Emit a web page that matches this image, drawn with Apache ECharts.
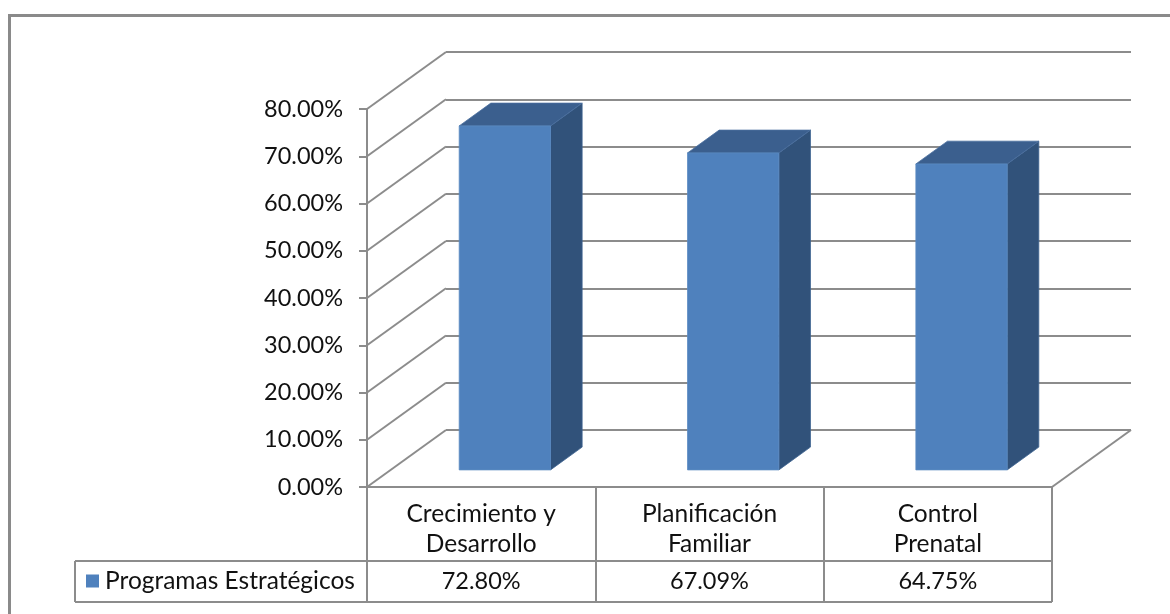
<!DOCTYPE html>
<html>
<head>
<meta charset="utf-8">
<script src="https://cdn.jsdelivr.net/npm/echarts@6/dist/echarts.min.js"></script>
<style>
html,body{margin:0;padding:0;background:#fff;}
#c{width:1170px;height:614px;}
</style>
</head>
<body>
<div id="c"></div>
<script>
// ---- data ----
const categories = ['Crecimiento y\nDesarrollo', 'Planificación\nFamiliar', 'Control\nPrenatal'];
const values = [72.80, 67.09, 64.75];
const seriesName = 'Programas Estratégicos';
const yMin = 0, yMax = 80, yStep = 10;
const yTicks = [0, 10, 20, 30, 40, 50, 60, 70, 80];

// ---- styling / 3D geometry ----
const DX = 79, DY = -57;            // floor depth offset
const F0 = 0.30, F1 = 0.70;         // bar depth position (fraction)
const BAR_W = 0.40;                 // bar width fraction of band
const LINE = '#8c8c8c';
const FONT = 'Lato, "Open Sans", sans-serif';
const TXT = '#111111';
const NUM_SIZE = 23.5, WORD_SIZE = 24.5;
const FRONT = '#4f81bd', TOP = '#3b5f8e', SIDE = '#31527a';
const LEGEND_LEFT = 75;

const chart = echarts.init(document.getElementById('c'), null, {renderer: 'canvas'});

const option = {
  animation: false,
  backgroundColor: '#fff',
  graphic: [{
    type: 'rect', left: 7, top: 13, z: 0,
    shape: {x: 0, y: 0, width: 1200, height: 700},
    style: {fill: 'none', stroke: '#8a8a8a', lineWidth: 3}
  }],
  grid: [
    {left: 367, right: 118, top: 109, bottom: 127},
    {left: 367 + DX, right: 118 - DX, top: 109 + DY, bottom: 127 - DY}
  ],
  xAxis: [
    {
      type: 'category', gridIndex: 0, data: categories,
      axisLine: {show: true, lineStyle: {color: LINE, width: 2}},
      axisTick: {show: true, interval: 0, length: 115, lineStyle: {color: LINE, width: 2}},
      axisLabel: {interval: 0, margin: 12, fontSize: WORD_SIZE, lineHeight: 30, color: TXT, fontFamily: FONT, align: 'center'}
    },
    {type: 'category', gridIndex: 1, data: categories, show: false}
  ],
  yAxis: [
    {
      type: 'value', gridIndex: 0, min: yMin, max: yMax, interval: yStep,
      axisLine: {show: true, lineStyle: {color: LINE, width: 2}},
      axisTick: {show: true, length: 8, lineStyle: {color: LINE, width: 2}},
      splitLine: {show: false},
      axisLabel: {margin: 24, fontSize: NUM_SIZE, color: TXT, fontFamily: FONT,
        formatter: v => v.toFixed(2) + '%'}
    },
    {
      type: 'value', gridIndex: 1, min: yMin, max: yMax, interval: yStep,
      axisLine: {show: false}, axisTick: {show: false}, axisLabel: {show: false},
      splitLine: {show: true, lineStyle: {color: LINE, width: 2}}
    }
  ],
  series: [
    {
      // side wall diagonals + floor right edge
      type: 'custom', xAxisIndex: 0, yAxisIndex: 0, clip: false, silent: true, z: 1,
      data: yTicks.map(v => [0, v]),
      renderItem: function (params, api) {
        const v = api.value(1);
        const p = api.coord([0, v]);
        const bw = api.size([1, 0])[0];
        const x0 = p[0] - bw / 2;
        const children = [{
          type: 'line', shape: {x1: x0, y1: p[1], x2: x0 + DX, y2: p[1] + DY},
          style: {stroke: LINE, lineWidth: 2}
        }];
        if (v === yMin) {
          const pr = api.coord([categories.length - 1, v]);
          const xr = pr[0] + bw / 2;
          children.push({
            type: 'line', shape: {x1: xr, y1: pr[1], x2: xr + DX, y2: pr[1] + DY},
            style: {stroke: LINE, lineWidth: 2}
          });
        }
        return {type: 'group', children: children};
      }
    },
    {
      // 3D bars
      name: seriesName,
      type: 'custom', xAxisIndex: 0, yAxisIndex: 0, clip: false, z: 5,
      data: values.map((v, i) => [i, v]),
      renderItem: function (params, api) {
        const i = api.value(0), v = api.value(1);
        const bw = api.size([1, 0])[0];
        const base = api.coord([i, 0]);
        const top = api.coord([i, v]);
        const ox = F0 * DX, oy = F0 * DY;
        const ddx = (F1 - F0) * DX, ddy = (F1 - F0) * DY;
        const w = bw * BAR_W;
        const xl = base[0] - w / 2 + ox, xr = base[0] + w / 2 + ox;
        const yb = base[1] + oy, yt = top[1] + oy;
        return {
          type: 'group', children: [
            {type: 'polygon', shape: {points: [[xr, yt], [xr + ddx, yt + ddy], [xr + ddx, yb + ddy], [xr, yb]]},
              style: {fill: SIDE, stroke: '#3d6391', lineWidth: 0.8}},
            {type: 'polygon', shape: {points: [[xl, yt], [xl + ddx, yt + ddy], [xr + ddx, yt + ddy], [xr, yt]]},
              style: {fill: TOP, stroke: '#4a6f9e', lineWidth: 0.8}},
            {type: 'rect', shape: {x: xl, y: yt, width: xr - xl, height: yb - yt},
              style: {fill: FRONT, stroke: '#5b8ac2', lineWidth: 0.8}}
          ]
        };
      }
    },
    {
      // data table row (legend key + values)
      type: 'custom', xAxisIndex: 0, yAxisIndex: 0, clip: false, silent: true, z: 3,
      data: values.map((v, i) => [i, v]),
      renderItem: function (params, api) {
        const i = api.value(0), v = api.value(1);
        const bw = api.size([1, 0])[0];
        const p = api.coord([i, 0]);
        const rowTop = p[1] + 74, rowBot = p[1] + 115;
        const children = [{
          type: 'text',
          style: {x: p[0], y: (rowTop + rowBot) / 2, text: v.toFixed(2) + '%',
            align: 'center', verticalAlign: 'middle', fontSize: NUM_SIZE, fontFamily: FONT, fill: TXT}
        }];
        if (i === 0) {
          const xr = api.coord([categories.length - 1, 0])[0] + bw / 2;
          const st = {stroke: LINE, lineWidth: 2};
          children.push(
            {type: 'line', shape: {x1: LEGEND_LEFT, y1: rowTop, x2: xr, y2: rowTop}, style: st},
            {type: 'line', shape: {x1: LEGEND_LEFT, y1: rowBot, x2: xr, y2: rowBot}, style: st},
            {type: 'line', shape: {x1: LEGEND_LEFT, y1: rowTop, x2: LEGEND_LEFT, y2: rowBot}, style: st},
            {type: 'rect', shape: {x: LEGEND_LEFT + 11, y: (rowTop + rowBot) / 2 - 7, width: 13, height: 13},
              style: {fill: FRONT}},
            {type: 'text', style: {x: LEGEND_LEFT + 30, y: (rowTop + rowBot) / 2, text: seriesName,
              align: 'left', verticalAlign: 'middle', fontSize: WORD_SIZE, fontFamily: FONT, fill: TXT}}
          );
        }
        return {type: 'group', children: children};
      }
    }
  ]
};
chart.setOption(option);
</script>
</body>
</html>
